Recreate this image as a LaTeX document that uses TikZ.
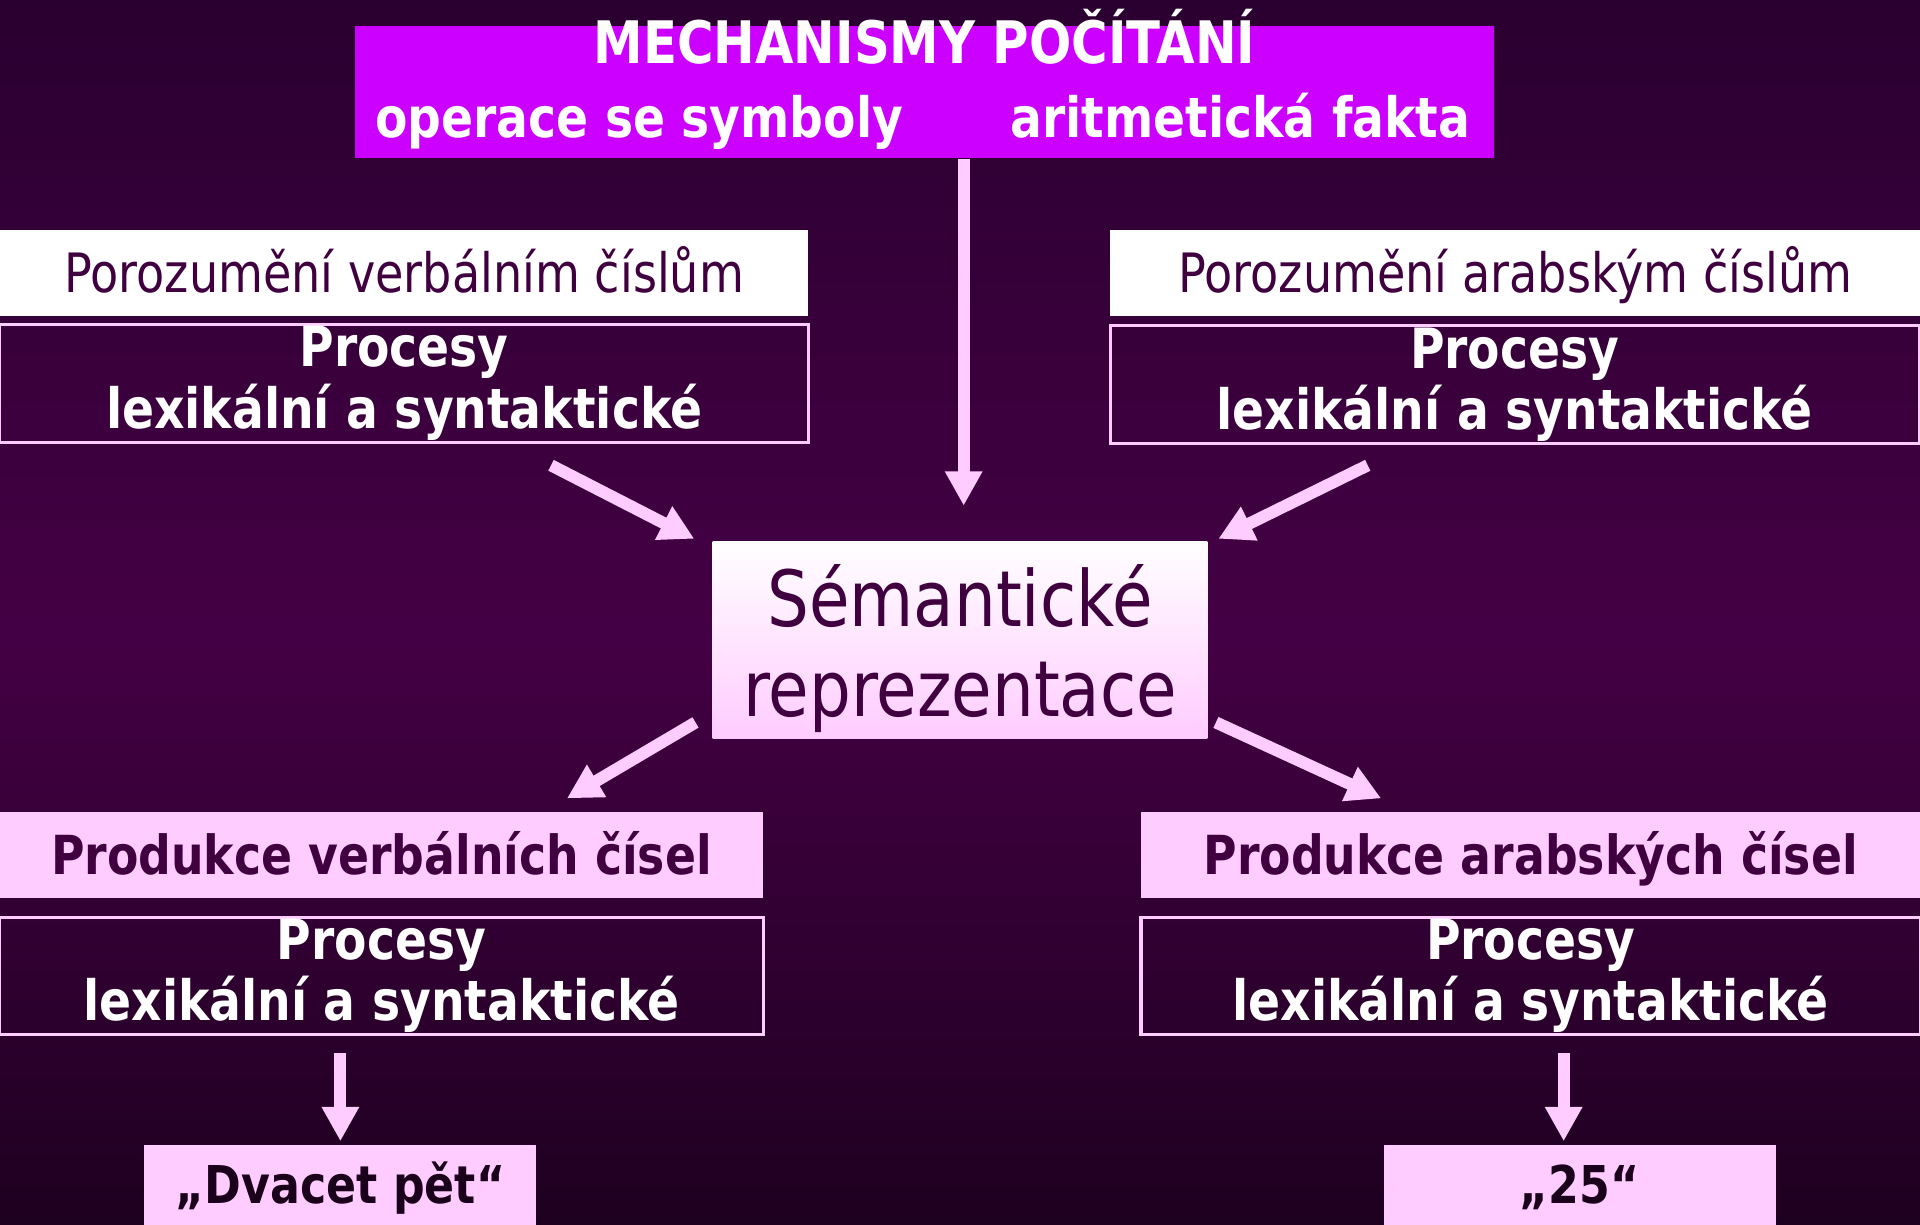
\documentclass[tikz,border=0pt]{standalone}
\usepackage{fontspec}
\setmainfont{DejaVu Sans}[FakeStretch=0.85]
\usetikzlibrary{arrows.meta, positioning}

\definecolor{bgtop}{HTML}{2A0030}
\definecolor{bgmid}{HTML}{440044}
\definecolor{bgbot}{HTML}{1E0020}
\definecolor{mechviolet}{HTML}{CC00FF}
\definecolor{lightpink}{HTML}{FFCCFF}
\definecolor{plum}{HTML}{400040}
\definecolor{nearblack}{HTML}{1A001A}

\begin{document}
\begin{tikzpicture}[x=0.01cm, y=-0.01cm, >={Triangle[width=8.2pt,length=8pt]},
  arr/.style={->, lightpink, line width=2.8pt},
  compbox/.style={fill=white, text=plum, inner sep=0pt, minimum height=0.7cm,
    text height=9.2pt, text depth=0pt, font=\fontsize{12.6pt}{14pt}\selectfont},
  procbox/.style={draw=lightpink, line width=0.7pt, text=white, inner sep=0pt,
    minimum height=0.96cm, align=center, font=\fontsize{12.9pt}{14.2pt}\selectfont\bfseries},
  prodbox/.style={fill=lightpink, text=plum, inner sep=0pt, minimum height=0.7cm,
    text height=9.1pt, text depth=0pt, font=\fontsize{12.5pt}{14pt}\selectfont\bfseries},
  outbox/.style={fill=lightpink, text=nearblack, inner sep=0pt, minimum width=3.2cm,
    minimum height=0.65cm, text height=8.8pt, text depth=0pt, font=\fontsize{12.1pt}{14pt}\selectfont\bfseries},
  mechtext/.style={text=white, anchor=base, inner sep=0pt, font=\fontsize{12.9pt}{14pt}\selectfont\bfseries}]
  \useasboundingbox (0,0) rectangle (1568,1000);
  \shade[top color=bgtop, bottom color=bgmid] (0,0) rectangle (1568,520);
  \shade[top color=bgmid, bottom color=bgbot] (0,520) rectangle (1568,1000);

  % top box
  \node[fill=mechviolet, minimum width=9.3cm, minimum height=1.08cm, inner sep=0pt] (mech) at (755,75) {};
  \node[mechtext, font=\fontsize{13.6pt}{14pt}\selectfont\bfseries] (mechtitle) at (755,52) {MECHANISMY POČÍTÁNÍ};
  \node[mechtext] (symb) at (522,112) {operace se symboly};
  \node[mechtext] (fakta) at (1013,112) {aritmetická fakta};

  % comprehension
  \node[compbox, minimum width=6.6cm] (lcomp) at (330,223) {Porozumění verbálním číslům};
  \node[compbox, minimum width=6.61cm] (rcomp) at (1237.5,223) {Porozumění arabským číslům};
  \node[procbox, minimum width=6.6cm] (lproc) at (330,313) {Procesy\\lexikální a syntaktické};
  \node[procbox, minimum width=6.6cm] (rproc) at (1237,314) {Procesy\\lexikální a syntaktické};

  % semantics
  \node[top color=white, bottom color=lightpink, text=plum, minimum width=4.04cm, minimum height=1.61cm,
    inner sep=0pt, align=center, font=\fontsize{18pt}{20.8pt}\selectfont] (sem) at (784,522.5)
    {\rule{0pt}{18.4pt}Sémantické\\reprezentace};

  % production
  \node[prodbox, minimum width=6.23cm] (lprod) at (311.5,698) {Produkce verbálních čísel};
  \node[prodbox, minimum width=6.36cm] (rprod) at (1250,698) {Produkce arabských čísel};
  \node[procbox, minimum width=6.23cm] (lproc2) at (311.5,797) {Procesy\\lexikální a syntaktické};
  \node[procbox, minimum width=6.36cm] (rproc2) at (1250,797) {Procesy\\lexikální a syntaktické};

  \node[outbox] (lout) at (278,967.5) {„Dvacet pět“};
  \node[outbox] (rout) at (1290,967.5) {„25“};

  % arrows
  \coordinate (semtop) at (787,413);
  \coordinate (lin) at (450,380);   \coordinate (lintip) at (567,440);
  \coordinate (rin) at (1117,380);  \coordinate (rintip) at (995,440);
  \coordinate (lex) at (568,590);   \coordinate (lextip) at (463,652);
  \coordinate (rex) at (993,590);   \coordinate (rextip) at (1128,652);
  \coordinate (lo) at (278,860);    \coordinate (lotip) at (278,932);
  \coordinate (ro) at (1277,860);   \coordinate (rotip) at (1277,932);
  \draw[arr] (mech.south -| semtop) -- (semtop);
  \draw[arr] (lin) -- (lintip);
  \draw[arr] (rin) -- (rintip);
  \draw[arr] (lex) -- (lextip);
  \draw[arr] (rex) -- (rextip);
  \draw[arr] (lo) -- (lotip);
  \draw[arr] (ro) -- (rotip);
\end{tikzpicture}
\end{document}
